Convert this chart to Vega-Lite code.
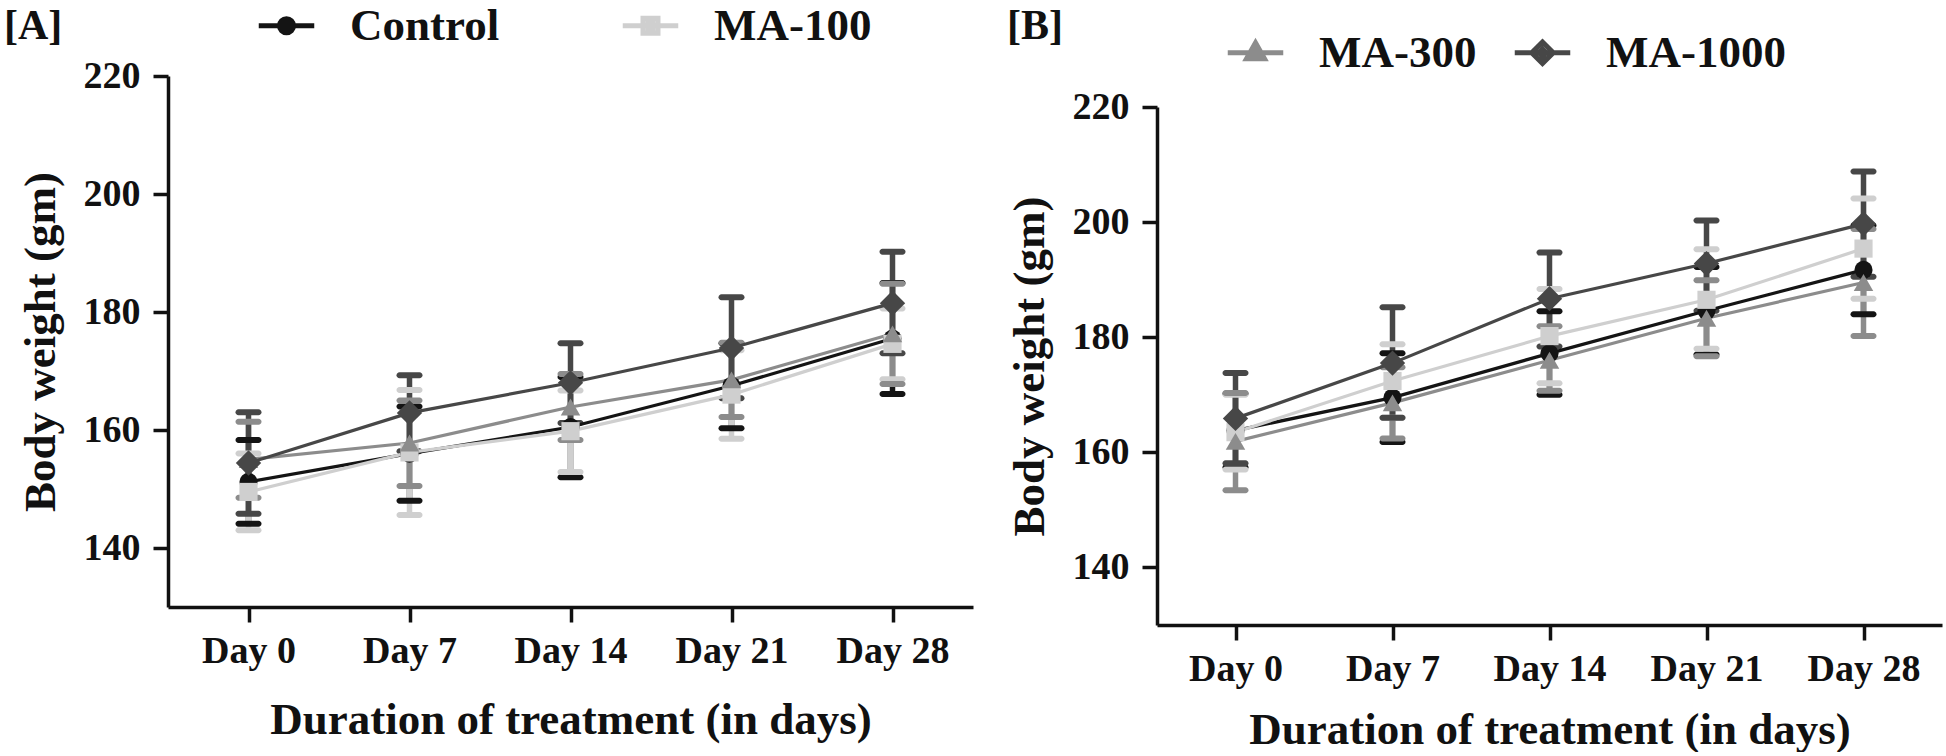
{
  "$schema": "https://vega.github.io/schema/vega-lite/v6.json",
  "background": "white",
  "padding": {"left": 4, "top": 3, "right": 2, "bottom": 0},
  "config": {
    "view": {"stroke": null},
    "font": "Liberation Serif",
    "axis": {
      "domainColor": "#111111", "domainWidth": 3.5, "tickColor": "#111111", "tickWidth": 3.5, "tickSize": 15,
      "labelFont": "Liberation Serif", "labelFontWeight": "bold", "labelFontSize": 38, "labelColor": "#111111", "labelPadding": 13,
      "titleFont": "Liberation Serif", "titleFontWeight": "bold", "titleFontSize": 45, "titleColor": "#111111", "grid": false
    },
    "axisY": {"titlePadding": 20},
    "axisX": {"labelPadding": 10, "labelAngle": 0},
    "title": {"font": "Liberation Serif", "fontWeight": "bold", "fontSize": 42, "color": "#111111", "anchor": "start", "frame": "bounds"},
    "legend": {"labelFont": "Liberation Serif", "labelFontWeight": "bold", "labelFontSize": 45, "labelColor": "#111111", "labelLimit": 400}
  },
  "datasets": {
    "A": [
      {"group": "Control", "day": "Day 0", "mean": 151.2, "lo": 144.1, "hi": 158.3},
      {"group": "Control", "day": "Day 7", "mean": 156.0, "lo": 148.0, "hi": 164.0},
      {"group": "Control", "day": "Day 14", "mean": 160.5, "lo": 152.0, "hi": 169.0},
      {"group": "Control", "day": "Day 21", "mean": 167.5, "lo": 160.3, "hi": 174.7},
      {"group": "Control", "day": "Day 28", "mean": 175.5, "lo": 166.1, "hi": 184.9},
      {"group": "MA-100", "day": "Day 0", "mean": 149.5, "lo": 143.0, "hi": 156.0},
      {"group": "MA-100", "day": "Day 7", "mean": 156.2, "lo": 145.6, "hi": 166.8},
      {"group": "MA-100", "day": "Day 14", "mean": 159.8, "lo": 152.9, "hi": 166.7},
      {"group": "MA-100", "day": "Day 21", "mean": 166.0, "lo": 158.5, "hi": 173.5},
      {"group": "MA-100", "day": "Day 28", "mean": 174.6, "lo": 168.6, "hi": 180.6},
      {"group": "MA-300", "day": "Day 0", "mean": 155.0, "lo": 148.5, "hi": 161.4},
      {"group": "MA-300", "day": "Day 7", "mean": 157.8, "lo": 150.5, "hi": 165.0},
      {"group": "MA-300", "day": "Day 14", "mean": 163.9, "lo": 158.3, "hi": 169.5},
      {"group": "MA-300", "day": "Day 21", "mean": 168.5, "lo": 162.2, "hi": 174.8},
      {"group": "MA-300", "day": "Day 28", "mean": 176.3, "lo": 167.8, "hi": 184.8},
      {"group": "MA-1000", "day": "Day 0", "mean": 154.4, "lo": 145.8, "hi": 163.0},
      {"group": "MA-1000", "day": "Day 7", "mean": 162.9, "lo": 156.4, "hi": 169.3},
      {"group": "MA-1000", "day": "Day 14", "mean": 168.0, "lo": 161.2, "hi": 174.7},
      {"group": "MA-1000", "day": "Day 21", "mean": 173.9, "lo": 165.4, "hi": 182.5},
      {"group": "MA-1000", "day": "Day 28", "mean": 181.5, "lo": 173.0, "hi": 190.2}
    ],
    "B": [
      {"group": "Control", "day": "Day 0", "mean": 163.8, "lo": 157.4, "hi": 170.2},
      {"group": "Control", "day": "Day 7", "mean": 169.5, "lo": 161.8, "hi": 177.2},
      {"group": "Control", "day": "Day 14", "mean": 177.2, "lo": 170.0, "hi": 184.5},
      {"group": "Control", "day": "Day 21", "mean": 184.6, "lo": 177.0, "hi": 192.2},
      {"group": "Control", "day": "Day 28", "mean": 191.7, "lo": 184.0, "hi": 199.4},
      {"group": "MA-100", "day": "Day 0", "mean": 163.5, "lo": 157.0, "hi": 170.0},
      {"group": "MA-100", "day": "Day 7", "mean": 172.4, "lo": 166.0, "hi": 178.8},
      {"group": "MA-100", "day": "Day 14", "mean": 180.2, "lo": 172.0, "hi": 188.4},
      {"group": "MA-100", "day": "Day 21", "mean": 186.5, "lo": 178.0, "hi": 195.3},
      {"group": "MA-100", "day": "Day 28", "mean": 195.4, "lo": 186.7, "hi": 204.1},
      {"group": "MA-300", "day": "Day 0", "mean": 161.9, "lo": 153.4, "hi": 170.3},
      {"group": "MA-300", "day": "Day 7", "mean": 168.6, "lo": 162.4, "hi": 174.8},
      {"group": "MA-300", "day": "Day 14", "mean": 176.0, "lo": 170.7, "hi": 181.9},
      {"group": "MA-300", "day": "Day 21", "mean": 183.3, "lo": 176.7, "hi": 189.9},
      {"group": "MA-300", "day": "Day 28", "mean": 189.5, "lo": 180.2, "hi": 198.8},
      {"group": "MA-1000", "day": "Day 0", "mean": 165.9, "lo": 158.1, "hi": 173.8},
      {"group": "MA-1000", "day": "Day 7", "mean": 175.5, "lo": 166.0, "hi": 185.2},
      {"group": "MA-1000", "day": "Day 14", "mean": 186.7, "lo": 178.4, "hi": 194.7},
      {"group": "MA-1000", "day": "Day 21", "mean": 192.8, "lo": 184.6, "hi": 200.3},
      {"group": "MA-1000", "day": "Day 28", "mean": 199.7, "lo": 190.5, "hi": 208.8}
    ]
  },
  "resolve": {"legend": {"color": "independent", "shape": "independent"}},
  "spacing": 34,
  "hconcat": [
    {
      "width": 805,
      "height": 531,
      "title": {"text": "[A]", "dx": -14, "offset": -45},
      "data": {"name": "A"},
      "encoding": {
        "x": {"field": "day", "type": "ordinal", "sort": ["Day 0", "Day 7", "Day 14", "Day 21", "Day 28"], "scale": {"type": "point", "padding": 0.5}, "axis": {"title": "Duration of treatment (in days)", "titlePadding": 27}}
      },
      "layer": [
        {"mark": {"type": "rule", "strokeWidth": 5.5},
         "encoding": {"y": {"field": "lo", "type": "quantitative", "scale": {"domain": [130, 220], "nice": false, "zero": false}, "axis": {"title": "Body weight (gm)", "values": [140, 160, 180, 200, 220]}}, "y2": {"field": "hi"},
           "stroke": {"field": "group", "type": "nominal", "scale": {"domain": ["Control", "MA-100", "MA-300", "MA-1000"], "range": ["#141414", "#cfcfcf", "#8c8c8c", "#474747"]}, "legend": null}}},
        {"mark": {"type": "tick", "thickness": 6, "size": 26, "cornerRadius": 3, "opacity": 1},
         "encoding": {"y": {"field": "lo", "type": "quantitative", "scale": {"domain": [130, 220], "nice": false, "zero": false}, "axis": {"title": "Body weight (gm)", "values": [140, 160, 180, 200, 220]}},
           "fill": {"field": "group", "type": "nominal", "scale": {"domain": ["Control", "MA-100", "MA-300", "MA-1000"], "range": ["#141414", "#cfcfcf", "#8c8c8c", "#474747"]}, "legend": null}}},
        {"mark": {"type": "tick", "thickness": 6, "size": 26, "cornerRadius": 3, "opacity": 1},
         "encoding": {"y": {"field": "hi", "type": "quantitative", "scale": {"domain": [130, 220], "nice": false, "zero": false}, "axis": {"title": "Body weight (gm)", "values": [140, 160, 180, 200, 220]}},
           "fill": {"field": "group", "type": "nominal", "scale": {"domain": ["Control", "MA-100", "MA-300", "MA-1000"], "range": ["#141414", "#cfcfcf", "#8c8c8c", "#474747"]}, "legend": null}}},
        {"mark": {"type": "line", "strokeWidth": 3.2},
         "encoding": {"y": {"field": "mean", "type": "quantitative", "scale": {"domain": [130, 220], "nice": false, "zero": false}, "axis": {"title": "Body weight (gm)", "values": [140, 160, 180, 200, 220]}},
           "stroke": {"field": "group", "type": "nominal", "scale": {"domain": ["Control", "MA-100", "MA-300", "MA-1000"], "range": ["#141414", "#cfcfcf", "#8c8c8c", "#474747"]}, "legend": null}}},
        {"transform": [{"filter": {"field": "group", "equal": "Control"}}],
         "mark": {"type": "point", "shape": "circle", "filled": true, "opacity": 1, "size": 330, "color": "#141414"},
         "encoding": {"y": {"field": "mean", "type": "quantitative", "scale": {"domain": [130, 220], "nice": false, "zero": false}, "axis": {"title": "Body weight (gm)", "values": [140, 160, 180, 200, 220]}}}},
        {"transform": [{"filter": {"field": "group", "equal": "MA-100"}}],
         "mark": {"type": "point", "shape": "square", "filled": true, "opacity": 1, "size": 330, "color": "#cfcfcf"},
         "encoding": {"y": {"field": "mean", "type": "quantitative", "scale": {"domain": [130, 220], "nice": false, "zero": false}, "axis": {"title": "Body weight (gm)", "values": [140, 160, 180, 200, 220]}}}},
        {"transform": [{"filter": {"field": "group", "equal": "MA-300"}}],
         "mark": {"type": "point", "shape": "triangle-up", "filled": true, "opacity": 1, "size": 380, "color": "#8c8c8c"},
         "encoding": {"y": {"field": "mean", "type": "quantitative", "scale": {"domain": [130, 220], "nice": false, "zero": false}, "axis": {"title": "Body weight (gm)", "values": [140, 160, 180, 200, 220]}}}},
        {"transform": [{"filter": {"field": "group", "equal": "MA-1000"}}],
         "mark": {"type": "point", "shape": "M0,-1.3L1.3,0L0,1.3L-1.3,0Z", "filled": true, "opacity": 1, "size": 380, "color": "#474747"},
         "encoding": {"y": {"field": "mean", "type": "quantitative", "scale": {"domain": [130, 220], "nice": false, "zero": false}, "axis": {"title": "Body weight (gm)", "values": [140, 160, 180, 200, 220]}}}},
        {"mark": {"type": "point", "filled": false, "opacity": 0, "size": 900, "strokeWidth": 5},
         "encoding": {"y": {"field": "mean", "type": "quantitative", "scale": {"domain": [130, 220], "nice": false, "zero": false}, "axis": {"title": "Body weight (gm)", "values": [140, 160, 180, 200, 220]}},
           "color": {"field": "group", "type": "nominal", "scale": {"domain": ["Control", "MA-100", "MA-300", "MA-1000"], "range": ["#141414", "#cfcfcf", "#8c8c8c", "#474747"]},
             "legend": {"title": null, "orient": "none", "legendX": 96, "legendY": -73, "direction": "horizontal", "values": ["Control", "MA-100"], "columnPadding": 112, "symbolSize": 900, "symbolStrokeWidth": 5, "symbolOpacity": 1, "labelOffset": 41}},
           "shape": {"field": "group", "type": "nominal", "scale": {"domain": ["Control", "MA-100", "MA-300", "MA-1000"], "range": [
               "M-1.85,0H1.85M-0.47,0A0.47,0.47,0,1,1,0.47,0A0.47,0.47,0,1,1,-0.47,0ZM-0.14,0A0.14,0.14,0,1,1,0.14,0A0.14,0.14,0,1,1,-0.14,0Z",
               "M-1.85,0H1.85M-0.5,-0.5H0.5V0.5H-0.5ZM-0.16,-0.16H0.16V0.16H-0.16Z",
               "M-1.85,0H1.85M0,-0.66L0.6,0.4H-0.6ZM0,-0.2L0.18,0.12H-0.18Z",
               "M-1.85,0H1.85M0,-0.72L0.72,0L0,0.72L-0.72,0ZM0,-0.24L0.24,0L0,0.24L-0.24,0Z"]},
             "legend": {"title": null, "orient": "none", "legendX": 96, "legendY": -73, "direction": "horizontal", "values": ["Control", "MA-100"], "columnPadding": 112, "symbolSize": 900, "symbolStrokeWidth": 5, "symbolOpacity": 1, "labelOffset": 41}}}}
      ]
    },
    {
      "width": 785,
      "height": 549,
      "title": {"text": "[B]", "dx": 0, "offset": -18},
      "data": {"name": "B"},
      "encoding": {
        "x": {"field": "day", "type": "ordinal", "sort": ["Day 0", "Day 7", "Day 14", "Day 21", "Day 28"], "scale": {"type": "point", "padding": 0.5}, "axis": {"title": "Duration of treatment (in days)", "titlePadding": 19}}
      },
      "layer": [
        {"mark": {"type": "rule", "strokeWidth": 5.5},
         "encoding": {"y": {"field": "lo", "type": "quantitative", "scale": {"domain": [130, 220], "range": [549, 31], "nice": false, "zero": false}, "axis": {"title": "Body weight (gm)", "values": [140, 160, 180, 200, 220]}}, "y2": {"field": "hi"},
           "stroke": {"field": "group", "type": "nominal", "scale": {"domain": ["Control", "MA-100", "MA-300", "MA-1000"], "range": ["#141414", "#cfcfcf", "#8c8c8c", "#474747"]}, "legend": null}}},
        {"mark": {"type": "tick", "thickness": 6, "size": 26, "cornerRadius": 3, "opacity": 1},
         "encoding": {"y": {"field": "lo", "type": "quantitative", "scale": {"domain": [130, 220], "range": [549, 31], "nice": false, "zero": false}, "axis": {"title": "Body weight (gm)", "values": [140, 160, 180, 200, 220]}},
           "fill": {"field": "group", "type": "nominal", "scale": {"domain": ["Control", "MA-100", "MA-300", "MA-1000"], "range": ["#141414", "#cfcfcf", "#8c8c8c", "#474747"]}, "legend": null}}},
        {"mark": {"type": "tick", "thickness": 6, "size": 26, "cornerRadius": 3, "opacity": 1},
         "encoding": {"y": {"field": "hi", "type": "quantitative", "scale": {"domain": [130, 220], "range": [549, 31], "nice": false, "zero": false}, "axis": {"title": "Body weight (gm)", "values": [140, 160, 180, 200, 220]}},
           "fill": {"field": "group", "type": "nominal", "scale": {"domain": ["Control", "MA-100", "MA-300", "MA-1000"], "range": ["#141414", "#cfcfcf", "#8c8c8c", "#474747"]}, "legend": null}}},
        {"mark": {"type": "line", "strokeWidth": 3.2},
         "encoding": {"y": {"field": "mean", "type": "quantitative", "scale": {"domain": [130, 220], "range": [549, 31], "nice": false, "zero": false}, "axis": {"title": "Body weight (gm)", "values": [140, 160, 180, 200, 220]}},
           "stroke": {"field": "group", "type": "nominal", "scale": {"domain": ["Control", "MA-100", "MA-300", "MA-1000"], "range": ["#141414", "#cfcfcf", "#8c8c8c", "#474747"]}, "legend": null}}},
        {"transform": [{"filter": {"field": "group", "equal": "Control"}}],
         "mark": {"type": "point", "shape": "circle", "filled": true, "opacity": 1, "size": 330, "color": "#141414"},
         "encoding": {"y": {"field": "mean", "type": "quantitative", "scale": {"domain": [130, 220], "range": [549, 31], "nice": false, "zero": false}, "axis": {"title": "Body weight (gm)", "values": [140, 160, 180, 200, 220]}}}},
        {"transform": [{"filter": {"field": "group", "equal": "MA-100"}}],
         "mark": {"type": "point", "shape": "square", "filled": true, "opacity": 1, "size": 330, "color": "#cfcfcf"},
         "encoding": {"y": {"field": "mean", "type": "quantitative", "scale": {"domain": [130, 220], "range": [549, 31], "nice": false, "zero": false}, "axis": {"title": "Body weight (gm)", "values": [140, 160, 180, 200, 220]}}}},
        {"transform": [{"filter": {"field": "group", "equal": "MA-300"}}],
         "mark": {"type": "point", "shape": "triangle-up", "filled": true, "opacity": 1, "size": 380, "color": "#8c8c8c"},
         "encoding": {"y": {"field": "mean", "type": "quantitative", "scale": {"domain": [130, 220], "range": [549, 31], "nice": false, "zero": false}, "axis": {"title": "Body weight (gm)", "values": [140, 160, 180, 200, 220]}}}},
        {"transform": [{"filter": {"field": "group", "equal": "MA-1000"}}],
         "mark": {"type": "point", "shape": "M0,-1.3L1.3,0L0,1.3L-1.3,0Z", "filled": true, "opacity": 1, "size": 380, "color": "#474747"},
         "encoding": {"y": {"field": "mean", "type": "quantitative", "scale": {"domain": [130, 220], "range": [549, 31], "nice": false, "zero": false}, "axis": {"title": "Body weight (gm)", "values": [140, 160, 180, 200, 220]}}}},
        {"mark": {"type": "point", "filled": false, "opacity": 0, "size": 900, "strokeWidth": 5},
         "encoding": {"y": {"field": "mean", "type": "quantitative", "scale": {"domain": [130, 220], "range": [549, 31], "nice": false, "zero": false}, "axis": {"title": "Body weight (gm)", "values": [140, 160, 180, 200, 220]}},
           "color": {"field": "group", "type": "nominal", "scale": {"domain": ["Control", "MA-100", "MA-300", "MA-1000"], "range": ["#141414", "#cfcfcf", "#8c8c8c", "#474747"]},
             "legend": {"title": null, "orient": "none", "legendX": 76, "legendY": -46, "direction": "horizontal", "values": ["MA-300", "MA-1000"], "columnPadding": 27, "symbolSize": 900, "symbolStrokeWidth": 5, "symbolOpacity": 1, "labelOffset": 41}},
           "shape": {"field": "group", "type": "nominal", "scale": {"domain": ["Control", "MA-100", "MA-300", "MA-1000"], "range": [
               "M-1.85,0H1.85M-0.47,0A0.47,0.47,0,1,1,0.47,0A0.47,0.47,0,1,1,-0.47,0ZM-0.14,0A0.14,0.14,0,1,1,0.14,0A0.14,0.14,0,1,1,-0.14,0Z",
               "M-1.85,0H1.85M-0.5,-0.5H0.5V0.5H-0.5ZM-0.16,-0.16H0.16V0.16H-0.16Z",
               "M-1.85,0H1.85M0,-0.66L0.6,0.4H-0.6ZM0,-0.2L0.18,0.12H-0.18Z",
               "M-1.85,0H1.85M0,-0.72L0.72,0L0,0.72L-0.72,0ZM0,-0.24L0.24,0L0,0.24L-0.24,0Z"]},
             "legend": {"title": null, "orient": "none", "legendX": 76, "legendY": -46, "direction": "horizontal", "values": ["MA-300", "MA-1000"], "columnPadding": 27, "symbolSize": 900, "symbolStrokeWidth": 5, "symbolOpacity": 1, "labelOffset": 41}}}}
      ]
    }
  ]
}
